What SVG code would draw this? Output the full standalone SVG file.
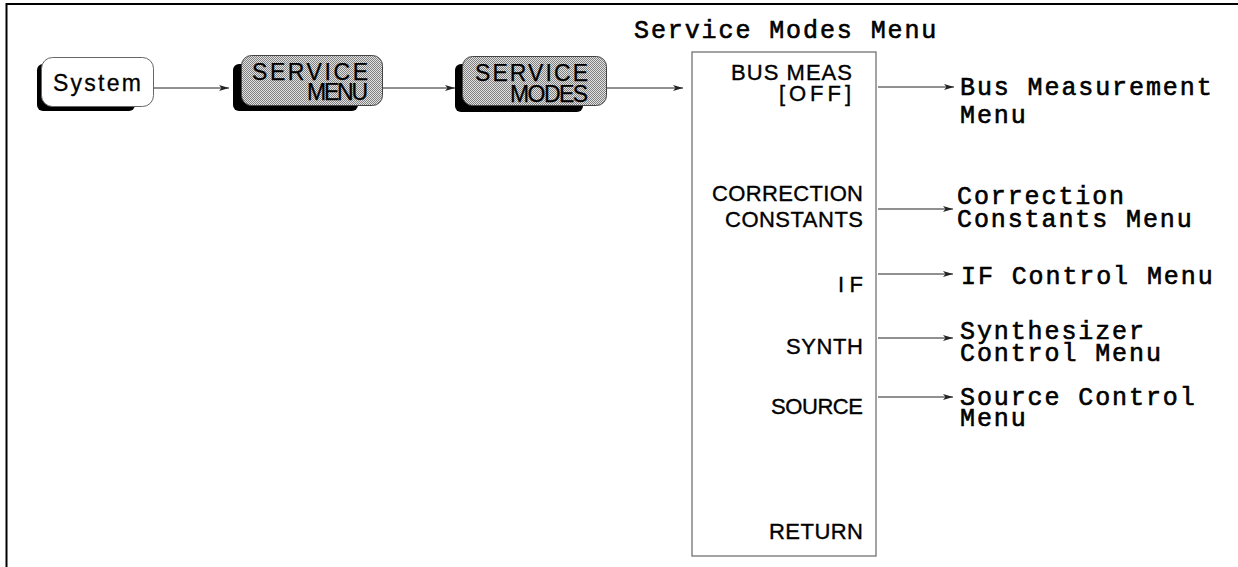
<svg xmlns="http://www.w3.org/2000/svg" width="1238" height="567" viewBox="0 0 1238 567">
<style>
.frame{fill:none;stroke:#000;stroke-width:2}
.shadow{fill:#000}
.keyw{fill:#fff;stroke:#666;stroke-width:1}
.keyg{fill:url(#dither);stroke:#444;stroke-width:1}
.keytxt{font-family:"Liberation Sans",Arial,sans-serif;font-size:23px;fill:#000;stroke:#000;stroke-width:0.25}
.systxt{font-family:"Liberation Sans",Arial,sans-serif;font-size:23px;fill:#000;stroke:#000;stroke-width:0.3}
.menubox{fill:#fff;stroke:#666;stroke-width:1.2}
.item{font-family:"Liberation Sans",Arial,sans-serif;font-size:22px;fill:#000;stroke:#000;stroke-width:0.35;text-anchor:end}
.lbl{font-family:"Liberation Mono","Courier New",monospace;font-size:25px;letter-spacing:1.9px;fill:#000;stroke:#000;stroke-width:0.6}
.conn{stroke:#222;stroke-width:1;fill:none;marker-end:url(#arr)}
</style>
<defs>
<pattern id="dither" patternUnits="userSpaceOnUse" width="2" height="2">
<rect width="2" height="2" fill="#e2e2e2"/>
<rect width="1" height="1" fill="#808080"/>
<rect x="1" y="1" width="1" height="1" fill="#808080"/>
</pattern>
<marker id="arr" viewBox="0 0 10 6" refX="10" refY="3" markerWidth="10" markerHeight="6" markerUnits="userSpaceOnUse" orient="auto">
<path d="M0,0 L10,3 L0,6 L2.5,3 z" fill="#222"/>
</marker>
</defs>
<rect width="1238" height="567" fill="#fff"/>
<path class="frame" d="M6.5,567 V4 H1238"/>

<g id="key-system">
<rect class="shadow" x="37" y="64" width="98" height="47" rx="6"/>
<rect class="keyw" x="41.5" y="57.5" width="112" height="49" rx="11"/>
<text class="systxt" x="53" y="91" textLength="88" lengthAdjust="spacing">System</text>
</g>

<g id="key-service-menu">
<rect class="shadow" x="233" y="64" width="125" height="47" rx="6"/>
<rect class="keyg" x="241.5" y="55.5" width="141" height="50" rx="10"/>
<text class="keytxt" x="252" y="80" textLength="116" lengthAdjust="spacing">SERVICE</text>
<text class="keytxt" x="307" y="100" textLength="61" lengthAdjust="spacing">MENU</text>
</g>

<g id="key-service-modes">
<rect class="shadow" x="455" y="64" width="128" height="48" rx="6"/>
<rect class="keyg" x="462.5" y="56.5" width="144" height="49" rx="10"/>
<text class="keytxt" x="475" y="81" textLength="113" lengthAdjust="spacing">SERVICE</text>
<text class="keytxt" x="510" y="102" textLength="78" lengthAdjust="spacing">MODES</text>
</g>

<g id="service-modes-menu">
<text class="lbl" x="634" y="38">Service Modes Menu</text>
<rect class="menubox" x="692" y="52" width="184" height="504"/>
<text class="item" x="852" y="80" textLength="121" lengthAdjust="spacing">BUS MEAS</text>
<text class="item" x="851" y="101" textLength="72" lengthAdjust="spacing">[OFF]</text>
<text class="item" x="863" y="201" textLength="151" lengthAdjust="spacing">CORRECTION</text>
<text class="item" x="863" y="227" textLength="138" lengthAdjust="spacing">CONSTANTS</text>
<text class="item" x="863" y="292" textLength="25" lengthAdjust="spacing">IF</text>
<text class="item" x="863" y="354" textLength="77" lengthAdjust="spacing">SYNTH</text>
<text class="item" x="863" y="414" textLength="92" lengthAdjust="spacing">SOURCE</text>
<text class="item" x="863" y="539" textLength="94" lengthAdjust="spacing">RETURN</text>
</g>

<g id="bus-measurement-menu">
<text class="lbl" x="960" y="95">Bus Measurement</text>
<text class="lbl" x="960" y="123">Menu</text>
</g>
<g id="correction-constants-menu">
<text class="lbl" x="957" y="204">Correction</text>
<text class="lbl" x="957" y="227">Constants Menu</text>
</g>
<g id="if-control-menu">
<text class="lbl" x="961" y="284">IF Control Menu</text>
</g>
<g id="synthesizer-control-menu">
<text class="lbl" x="960" y="339">Synthesizer</text>
<text class="lbl" x="960" y="361">Control Menu</text>
</g>
<g id="source-control-menu">
<text class="lbl" x="960" y="405">Source Control</text>
<text class="lbl" x="960" y="426">Menu</text>
</g>

<g id="connectors">
<line class="conn" x1="154" y1="88" x2="229" y2="88"/>
<line class="conn" x1="383" y1="88" x2="455" y2="88"/>
<line class="conn" x1="607" y1="88" x2="683" y2="88"/>
<line class="conn" x1="878" y1="87" x2="954" y2="87"/>
<line class="conn" x1="878" y1="209" x2="953" y2="209"/>
<line class="conn" x1="878" y1="274" x2="953" y2="274"/>
<line class="conn" x1="878" y1="338" x2="953" y2="338"/>
<line class="conn" x1="878" y1="397" x2="953" y2="397"/>
</g>
</svg>
